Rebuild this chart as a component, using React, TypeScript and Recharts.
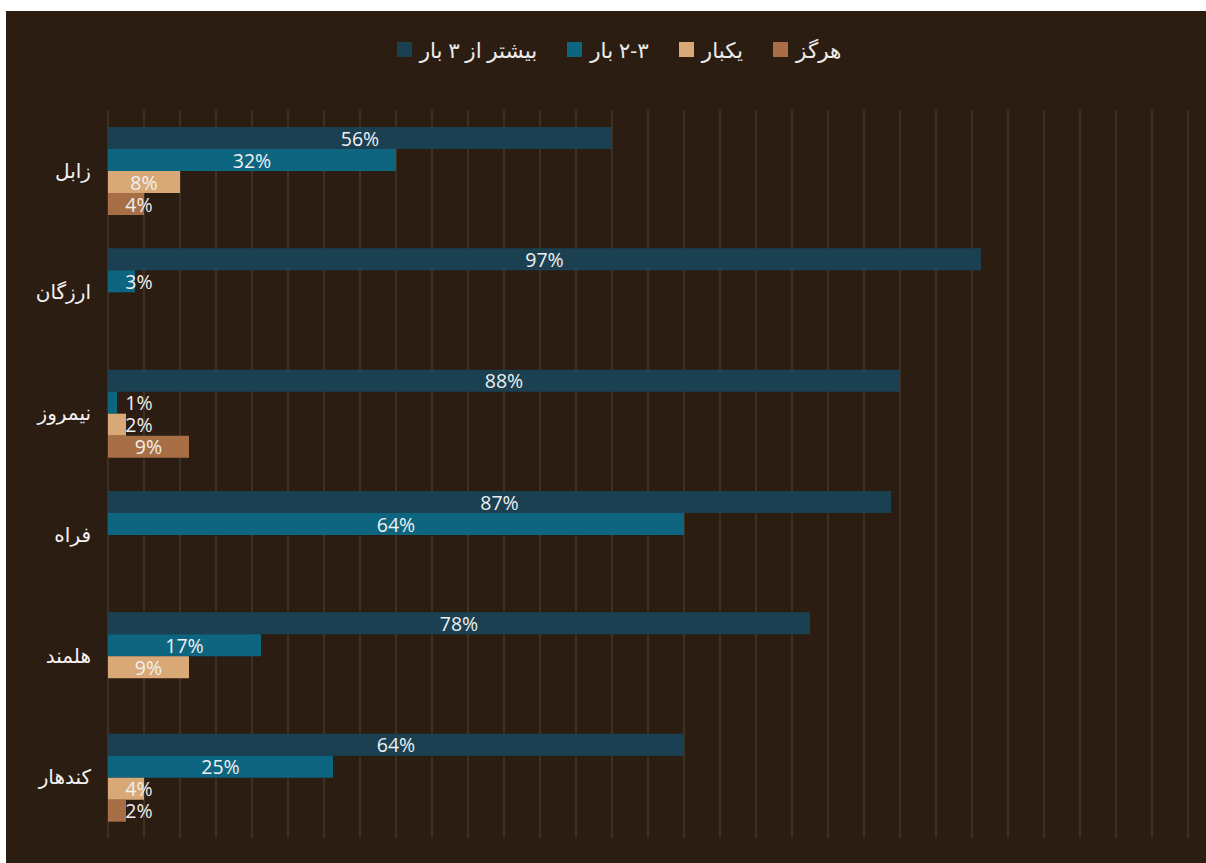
import { Bar, BarChart, CartesianGrid, LabelList, XAxis, YAxis } from "recharts";

// provinces, top to bottom
const provinces = ["زابل", "ارزگان", "نیمروز", "فراه", "هلمند", "کندهار"];

// percentages per answer
const moreThanThree = [56, 97, 88, 87, 78, 64];
const twoToThree = [32, 3, 1, 64, 17, 25];
const once = [8, null, 2, null, 9, 4];
const never = [4, null, 9, null, null, 2];

const seriesNames = ["بیشتر از ۳ بار", "۲-۳ بار", "یکبار", "هرگز"];
const seriesKeys = ["moreThanThree", "twoToThree", "once", "never"];
const seriesColors = ["#1a4052", "#0d6580", "#d8a877", "#a86f46"];

const gridTicks = [0, 4, 8, 12, 16, 20, 24, 28, 32, 36, 40, 44, 48, 52, 56, 60, 64, 68, 72, 76, 80, 84, 88, 92, 96, 100, 104, 108, 112, 116, 120];

const FONT = "'Open Sans', 'DejaVu Sans', sans-serif";

const data = provinces.map((name, i) => ({
  name,
  moreThanThree: moreThanThree[i],
  twoToThree: twoToThree[i],
  once: once[i],
  never: never[i],
}));

// Excel keeps the label from sliding left of the axis on tiny bars
function ValueLabel(props: any) {
  const { x, y, width, height, value } = props;
  if (value === null || value === undefined) return null;
  const cx = Math.max(x + width / 2, x + 31);
  return (
    <text
      x={cx}
      y={y + height / 2}
      textAnchor="middle"
      dominantBaseline="central"
      fill="#f0f0f0"
      fontSize={19.5}
      fontFamily={FONT}
    >
      {value + "%"}
    </text>
  );
}

function ChartLegend() {
  return (
    <div
      style={{
        position: "absolute",
        top: 24,
        left: 13,
        width: 1200,
        display: "flex",
        justifyContent: "center",
        alignItems: "center",
        fontFamily: FONT,
        fontSize: 21.5,
        color: "#ececec",
      }}
    >
      {seriesNames.map((name, i) => (
        <div key={name} style={{ display: "flex", alignItems: "center", marginRight: i < seriesNames.length - 1 ? 30 : 0 }}>
          <span style={{ width: 15, height: 15, background: seriesColors[i], marginRight: 8, display: "inline-block" }} />
          <span dir="rtl">{name}</span>
        </div>
      ))}
    </div>
  );
}

export default function App() {
  return (
    <div style={{ position: "absolute", left: 6, top: 11, width: 1200, height: 852, background: "#2c1d12" }}>
      <ChartLegend />
      <BarChart
        width={1200}
        height={852}
        data={data}
        layout="vertical"
        barSize={22}
        barGap={0}
        margin={{ top: 99, right: 18, bottom: 25, left: 0 }}
      >
        <CartesianGrid horizontal={false} stroke="#45362a" strokeWidth={1.5} />
        <XAxis
          type="number"
          domain={[0, 120]}
          ticks={gridTicks}
          interval={0}
          tick={() => <g />}
          axisLine={false}
          tickLine={false}
          height={0}
        />
        <YAxis
          type="category"
          dataKey="name"
          width={102}
          axisLine={false}
          tickLine={false}
          tickSize={0}
          tickMargin={17}
          tick={{ fill: "#f2f2f2", fontSize: 20, fontFamily: FONT }}
        />
        {seriesKeys.map((key, i) => (
          <Bar key={key} dataKey={key} name={seriesNames[i]} fill={seriesColors[i]} isAnimationActive={false}>
            <LabelList dataKey={key} content={<ValueLabel />} />
          </Bar>
        ))}
      </BarChart>
    </div>
  );
}
